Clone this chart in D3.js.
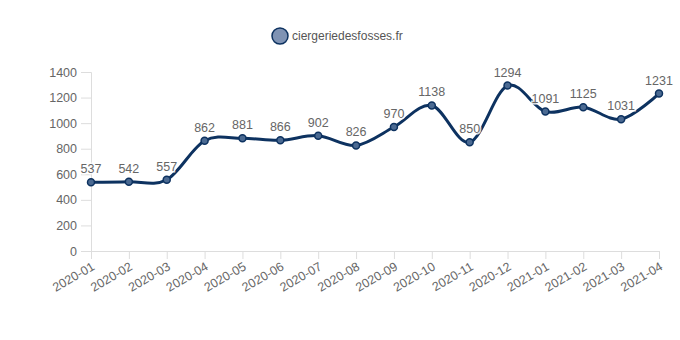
<!DOCTYPE html>
<html><head><meta charset="utf-8">
<script src="https://cdn.jsdelivr.net/npm/d3@7"></script>
<style>body{margin:0;background:#fff}svg{display:block;font-family:"Liberation Sans",Arial,sans-serif}</style>
</head><body><svg id="c" width="680" height="340"></svg>
<script>
const categories = ["2020-01","2020-02","2020-03","2020-04","2020-05","2020-06","2020-07","2020-08","2020-09","2020-10","2020-11","2020-12","2021-01","2021-02","2021-03","2021-04"];
const values = [537,542,557,862,881,866,902,826,970,1138,850,1294,1091,1125,1031,1231];
const yTicks = [0,200,400,600,800,1000,1200,1400];
const seriesName = "ciergeriedesfosses.fr";

const svg = d3.select("#c");
const L = 91, R = 659, T = 72, B = 251;
const x = d3.scalePoint().domain(categories).range([L, R]);
const y = d3.scaleLinear().domain([0, 1400]).range([B, T]);

// y axis
const ya = svg.append("g").attr("transform", `translate(${L},0)`)
  .call(d3.axisLeft(y).tickValues(yTicks).tickFormat(d3.format("d")).tickSize(10).tickPadding(4));
ya.select(".domain").attr("stroke", "#ddd");
ya.selectAll(".tick line").attr("stroke", "#ddd");
ya.selectAll("text").attr("fill", "#666").attr("font-size", 12.5).attr("font-family", "Liberation Sans, Arial, sans-serif");

// x axis
const xa = svg.append("g").attr("transform", `translate(0,${B})`)
  .call(d3.axisBottom(x).tickSize(8).tickSizeOuter(0));
xa.select(".domain").attr("stroke", "#ddd");
xa.selectAll(".tick line").attr("stroke", "#ddd");
xa.selectAll("text").attr("fill", "#666").attr("font-size", 12.5)
  .attr("font-family", "Liberation Sans, Arial, sans-serif")
  .attr("text-anchor", "end").attr("dy", null).attr("y", 0)
  .attr("transform", "translate(4,18) rotate(-30)");

// line
const line = d3.line().x((d, i) => x(categories[i])).y(d => y(d)).curve(d3.curveCardinal.tension(0));
svg.append("path").datum(values).attr("d", line)
  .attr("fill", "none").attr("stroke", "#0d3260").attr("stroke-width", 3);

// labels with halo
svg.append("g").selectAll("text").data(values).join("text")
  .attr("x", (d, i) => x(categories[i])).attr("y", d => y(d) - 9)
  .attr("text-anchor", "middle").attr("font-size", 12.5).attr("fill", "#666")
  .attr("stroke", "#fff").attr("stroke-width", 3).attr("stroke-opacity", 0.85).attr("paint-order", "stroke")
  .text(d => d);

// points
svg.append("g").selectAll("circle").data(values).join("circle")
  .attr("cx", (d, i) => x(categories[i])).attr("cy", d => y(d)).attr("r", 3.5)
  .attr("fill", "#4b6a92").attr("stroke", "#0d3260").attr("stroke-width", 1.5);

// legend
svg.append("circle").attr("cx", 280).attr("cy", 36).attr("r", 8)
  .attr("fill", "#7f93b4").attr("stroke", "#0d3260").attr("stroke-width", 1.5);
svg.append("text").attr("x", 292).attr("y", 40).attr("font-size", 12).attr("fill", "#555").text(seriesName);
</script></body></html>
